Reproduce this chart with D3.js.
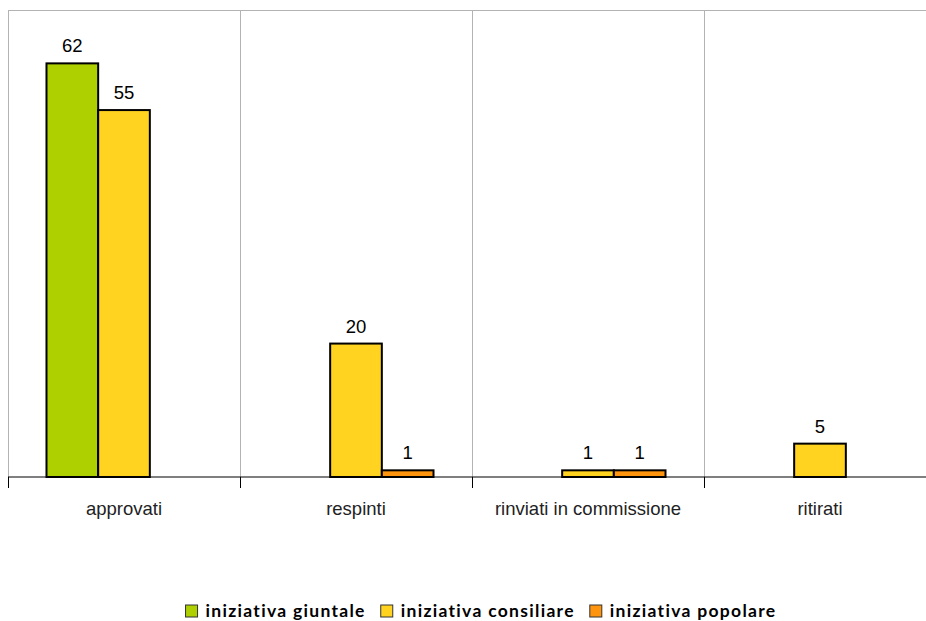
<!DOCTYPE html>
<html>
<head>
<meta charset="utf-8">
<script src="https://cdn.jsdelivr.net/npm/d3@7"></script>
<style>
  body { margin: 0; background: #fff; }
  svg { display: block; }
</style>
</head>
<body>
<svg id="chart"></svg>
<script>
const categories = ["approvati", "respinti", "rinviati in commissione", "ritirati"];
const series = ["iniziativa giuntale", "iniziativa consiliare", "iniziativa popolare"];
const giuntale = [62, null, null, null];
const consiliare = [55, 20, 1, 5];
const popolare = [null, 1, 1, null];
const colors = ["#aecf00", "#ffd320", "#ff950e"];

const values = [giuntale, consiliare, popolare];

const W = 926, H = 621;
const svg = d3.select("#chart").attr("width", W).attr("height", H);

const plotLeft = 8, plotRight = 936, plotTop = 10, plotBottom = 477;

const x = d3.scaleBand().domain(categories).range([plotLeft, plotRight]);
const xs = d3.scaleBand().domain(series).range([0, x.bandwidth()]).paddingInner(0).paddingOuter(0.745);
const y = d3.scaleLinear().domain([0, 70]).range([plotBottom, plotTop]);

// frame + vertical grid
svg.append("line").attr("x1", plotLeft).attr("x2", plotRight).attr("y1", plotTop + 0.5).attr("y2", plotTop + 0.5)
  .attr("stroke", "#b3b3b3");
svg.append("g").selectAll("line")
  .data(categories)
  .enter().append("line")
  .attr("x1", d => Math.round(x(d)) + 0.5).attr("x2", d => Math.round(x(d)) + 0.5)
  .attr("y1", plotTop).attr("y2", plotBottom)
  .attr("stroke", "#b3b3b3");

// bars
const rows = [];
categories.forEach((c, i) => {
  series.forEach((s, j) => {
    if (values[j][i] != null) rows.push({ cat: c, ser: s, v: values[j][i], col: colors[j] });
  });
});

svg.append("g").selectAll("rect")
  .data(rows)
  .enter().append("rect")
  .attr("x", d => x(d.cat) + xs(d.ser))
  .attr("y", d => y(d.v))
  .attr("width", xs.bandwidth())
  .attr("height", d => y(0) - y(d.v))
  .attr("fill", d => d.col)
  .attr("stroke", "#000")
  .attr("stroke-width", 2);

// value labels
svg.append("g").selectAll("text")
  .data(rows)
  .enter().append("text")
  .attr("x", d => x(d.cat) + xs(d.ser) + xs.bandwidth() / 2)
  .attr("y", d => y(d.v) - 11)
  .attr("text-anchor", "middle")
  .attr("font-family", "Liberation Sans, Arial, sans-serif")
  .attr("font-size", 18.5)
  .attr("fill", "#000")
  .text(d => d.v);

// x axis
const axis = svg.append("g").attr("transform", `translate(0,${plotBottom})`);
axis.append("line").attr("x1", plotLeft).attr("x2", W).attr("stroke", "#000").attr("stroke-width", 1.2);
axis.selectAll(".tk").data(categories).enter().append("line")
  .attr("x1", d => Math.round(x(d)) + 0.5).attr("x2", d => Math.round(x(d)) + 0.5)
  .attr("y1", 0).attr("y2", 11).attr("stroke", "#000");

svg.append("g").selectAll("text")
  .data(categories)
  .enter().append("text")
  .attr("x", d => x(d) + x.bandwidth() / 2)
  .attr("y", 515)
  .attr("text-anchor", "middle")
  .attr("font-family", "Liberation Sans, Arial, sans-serif")
  .attr("font-size", 18.5)
  .attr("fill", "#222")
  .text(d => d);

// legend
const legend = svg.append("g").attr("transform", "translate(0,611)");
const lg = legend.selectAll("g").data(series).enter().append("g");
lg.append("rect").attr("width", 12).attr("height", 12).attr("y", -6)
  .attr("fill", (d, i) => colors[i]).attr("stroke", "#333").attr("stroke-width", 1);
lg.append("text").attr("x", 20).attr("y", 5.5)
  .attr("font-family", "Lato, Open Sans, sans-serif")
  .attr("font-weight", "bold").attr("font-size", 17.5).attr("letter-spacing", 1.3)
  .attr("fill", "#000")
  .text(d => d);
const widths = [];
lg.each(function () { widths.push(this.getBBox().width); });
const gap = 15;
const total = d3.sum(widths) + gap * (widths.length - 1);
let pos = (W - total) / 2 + 18;
lg.attr("transform", (d, i) => {
  const t = `translate(${pos},0)`;
  pos += widths[i] + gap;
  return t;
});
</script>
</body>
</html>
